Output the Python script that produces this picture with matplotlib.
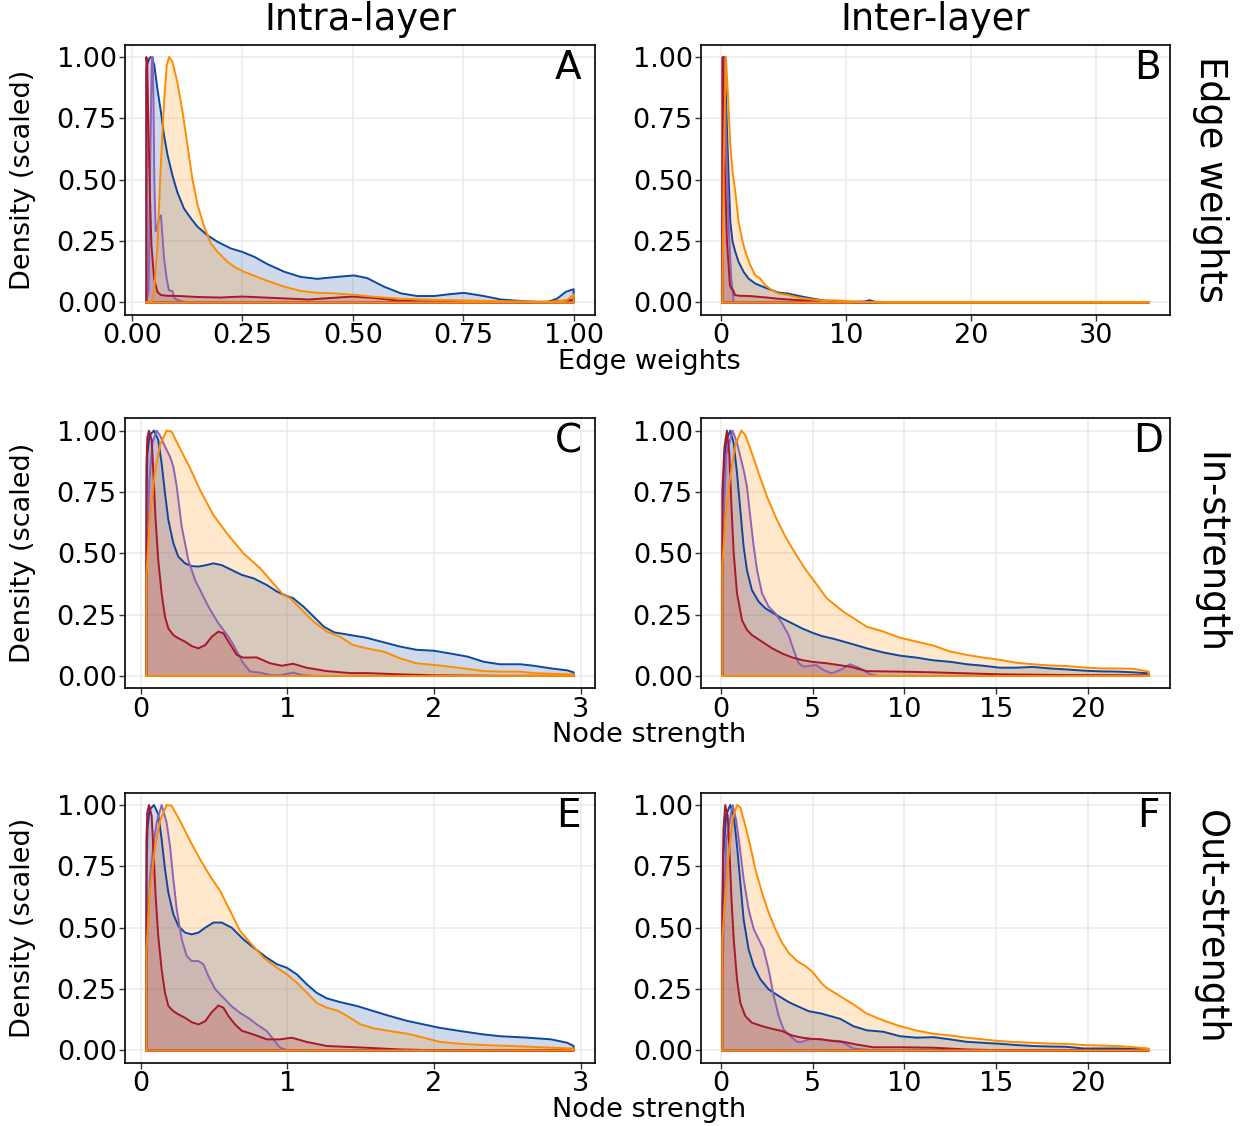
import numpy as np
import matplotlib
matplotlib.use("Agg")
from matplotlib import pyplot as plt

# scaled densities, read per panel and per group
# panel A: intra-layer edge weights
a_blue_x = [0.033, 0.035, 0.040, 0.043, 0.047, 0.051, 0.058, 0.066, 0.073, 0.081, 0.092, 0.103, 0.118, 0.134,
            0.149, 0.171, 0.194, 0.224, 0.250, 0.277, 0.307, 0.345, 0.382, 0.420, 0.458, 0.503, 0.533, 0.571,
            0.609, 0.646, 0.684, 0.722, 0.752, 0.797, 0.835, 0.895, 0.940, 0.963, 0.982, 1.000]
a_blue_y = [0.95, 0.97, 0.995, 1.00, 0.99, 0.966, 0.87, 0.776, 0.681, 0.60, 0.518, 0.45, 0.383, 0.342,
            0.308, 0.274, 0.247, 0.22, 0.206, 0.186, 0.156, 0.125, 0.104, 0.096, 0.103, 0.110, 0.099, 0.064,
            0.037, 0.026, 0.026, 0.034, 0.039, 0.026, 0.012, 0.004, 0.001, 0.016, 0.043, 0.054]
a_purple_x = [0.033, 0.038, 0.042, 0.045, 0.047, 0.049, 0.051, 0.054, 0.058, 0.062, 0.066, 0.069, 0.073,
              0.079, 0.084, 0.092, 0.097, 0.111, 0.13, 0.3, 0.6, 0.9, 1.0]
a_purple_y = [0.0, 0.05, 0.6, 0.97, 1.0, 0.85, 0.5, 0.29, 0.31, 0.345, 0.355, 0.28, 0.18,
              0.097, 0.05, 0.046, 0.016, 0.005, 0.0, 0.0, 0.0, 0.0, 0.005]
a_red_x = [0.033, 0.035, 0.037, 0.041, 0.0445, 0.0505, 0.058, 0.066, 0.081, 0.11, 0.15, 0.2, 0.25, 0.3,
           0.35, 0.4, 0.45, 0.5, 0.55, 0.6, 0.65, 0.7, 0.8, 0.9, 0.97, 1.0]
a_red_y = [1.0, 0.97, 0.776, 0.437, 0.233, 0.098, 0.043, 0.03, 0.027, 0.026, 0.022, 0.02, 0.024, 0.02,
           0.016, 0.012, 0.018, 0.024, 0.018, 0.008, 0.004, 0.003, 0.002, 0.001, 0.004, 0.012]
a_orange_x = [0.033, 0.045, 0.0505, 0.058, 0.066, 0.073, 0.079, 0.0845, 0.092, 0.103, 0.115, 0.126, 0.137,
              0.149, 0.164, 0.179, 0.194, 0.217, 0.232, 0.254, 0.292, 0.307, 0.345, 0.382, 0.42, 0.458,
              0.503, 0.548, 0.609, 0.684, 0.759, 0.835, 0.948, 0.986, 1.0]
a_orange_y = [0.0, 0.003, 0.043, 0.233, 0.573, 0.817, 0.966, 1.0, 0.98, 0.898, 0.776, 0.64, 0.505,
              0.396, 0.308, 0.24, 0.206, 0.165, 0.145, 0.125, 0.098, 0.088, 0.064, 0.047, 0.039, 0.037,
              0.031, 0.023, 0.015, 0.011, 0.008, 0.005, 0.003, 0.01, 0.033]

# panel B: inter-layer edge weights
b_blue_x = [0.13, 0.2, 0.32, 0.5, 0.64, 0.77, 0.95, 1.17, 1.43, 1.83, 2.23, 2.76, 3.56, 4.63, 5.4, 6.2,
            7.3, 8.1, 9.0, 10.5, 11.5, 11.9, 12.3, 14, 20, 28, 34.2]
b_blue_y = [0.3, 0.9, 1.0, 0.708, 0.505, 0.328, 0.247, 0.206, 0.165, 0.125, 0.097, 0.077, 0.06, 0.04,
            0.036, 0.027, 0.016, 0.009, 0.004, 0.002, 0.004, 0.009, 0.003, 0.0, 0.0, 0.0, 0.0]
b_purple_x = [0.13, 0.26, 0.37, 0.64, 0.85, 1.04, 2, 10, 20, 34.2]
b_purple_y = [0.4, 1.0, 0.776, 0.3, 0.097, 0.0, 0.0, 0.0, 0.0, 0.0]
b_red_x = [0.13, 0.16, 0.3, 0.5, 0.74, 0.85, 1.0, 1.14, 1.5, 2.34, 3.67, 4.6, 6.3, 7.5, 9.0, 12, 20, 34.2]
b_red_y = [0.95, 1.0, 0.6, 0.25, 0.07, 0.057, 0.05, 0.03, 0.027, 0.026, 0.02, 0.015, 0.009, 0.006, 0.003,
           0.0, 0.0, 0.0]
b_orange_x = [0.13, 0.25, 0.42, 0.58, 0.77, 0.95, 1.17, 1.43, 1.7, 1.97, 2.36, 2.76, 3.16, 3.56, 4.1,
              4.63, 5.4, 6.2, 7.3, 8.1, 9.0, 10.3, 11.6, 13, 20, 34.2]
b_orange_y = [0.0, 0.6, 1.0, 0.845, 0.64, 0.532, 0.45, 0.328, 0.26, 0.206, 0.152, 0.111, 0.097, 0.07,
              0.05, 0.036, 0.03, 0.02, 0.012, 0.008, 0.009, 0.005, 0.002, 0.0, 0.0, 0.0]

# panel C: intra-layer in-strength
c_blue_x = [0.039, 0.041, 0.046, 0.06, 0.091, 0.12, 0.143, 0.166, 0.189, 0.223, 0.257, 0.303, 0.348,
            0.394, 0.44, 0.496, 0.553, 0.621, 0.69, 0.77, 0.86, 0.93, 0.997, 1.04, 1.11, 1.18, 1.25, 1.32,
            1.43, 1.54, 1.66, 1.77, 1.88, 2.0, 2.11, 2.23, 2.34, 2.45, 2.59, 2.68, 2.8, 2.91, 2.953]
c_blue_y = [0.4, 0.75, 0.9, 0.98, 1.0, 0.962, 0.867, 0.745, 0.636, 0.541, 0.486, 0.459, 0.448,
            0.446, 0.451, 0.459, 0.452, 0.432, 0.412, 0.398, 0.371, 0.344, 0.326, 0.317, 0.283, 0.242,
            0.201, 0.178, 0.167, 0.156, 0.137, 0.12, 0.107, 0.103, 0.092, 0.079, 0.058, 0.048, 0.048,
            0.042, 0.031, 0.023, 0.015]
c_purple_x = [0.039, 0.06, 0.08, 0.109, 0.132, 0.166, 0.2, 0.223, 0.246, 0.28, 0.325, 0.371, 0.417,
              0.462, 0.53, 0.599, 0.633, 0.7, 0.747, 0.815, 0.883, 0.95, 1.04, 1.11, 1.2, 2.0, 2.953]
c_purple_y = [0.45, 0.8, 0.95, 1.0, 0.98, 0.935, 0.894, 0.853, 0.772, 0.609, 0.473, 0.391, 0.337,
              0.283, 0.215, 0.16, 0.126, 0.052, 0.018, 0.014, 0.004, 0.003, 0.014, 0.003, 0.0, 0.0, 0.0]
c_red_x = [0.039, 0.045, 0.057, 0.075, 0.086, 0.102, 0.12, 0.143, 0.166, 0.189, 0.223, 0.257, 0.303,
           0.348, 0.394, 0.44, 0.485, 0.53, 0.565, 0.599, 0.656, 0.70, 0.79, 0.883, 0.963, 1.04, 1.13,
           1.27, 1.43, 1.54, 1.77, 2.0, 2.45, 2.953]
c_red_y = [0.85, 0.97, 1.0, 0.962, 0.84, 0.636, 0.473, 0.337, 0.242, 0.194, 0.167, 0.154, 0.14,
           0.122, 0.113, 0.126, 0.16, 0.181, 0.174, 0.14, 0.086, 0.075, 0.076, 0.052, 0.042, 0.05, 0.034,
           0.02, 0.012, 0.012, 0.007, 0.003, 0.001, 0.001]
c_orange_x = [0.039, 0.064, 0.098, 0.132, 0.177, 0.211, 0.268, 0.337, 0.405, 0.496, 0.587, 0.701, 0.815,
              0.894, 0.974, 1.02, 1.088, 1.18, 1.27, 1.36, 1.45, 1.54, 1.66, 1.77, 1.88, 2.0, 2.11, 2.23,
              2.34, 2.45, 2.59, 2.68, 2.91, 2.953]
c_orange_y = [0.41, 0.656, 0.833, 0.942, 1.0, 0.996, 0.928, 0.847, 0.758, 0.656, 0.582, 0.5, 0.439,
              0.385, 0.33, 0.317, 0.276, 0.221, 0.181, 0.16, 0.126, 0.113, 0.099, 0.072, 0.052, 0.045,
              0.038, 0.029, 0.02, 0.018, 0.018, 0.012, 0.007, 0.007]

# panel D: inter-layer in-strength
d_blue_x = [0.09, 0.15, 0.3, 0.52, 0.71, 0.89, 1.07, 1.25, 1.43, 1.7, 2.07, 2.43, 2.89, 3.34, 3.88, 4.43,
            4.97, 5.5, 6.13, 7.04, 7.95, 8.86, 9.76, 10.67, 11.58, 12.49, 13.4, 14.3, 15.2, 16.1, 17.0,
            17.9, 18.8, 19.75, 20.7, 21.6, 22.5, 23.3]
d_blue_y = [0.45, 0.8, 0.96, 1.0, 0.949, 0.826, 0.677, 0.527, 0.432, 0.35, 0.303, 0.276, 0.255, 0.235,
            0.215, 0.194, 0.177, 0.163, 0.152, 0.133, 0.113, 0.096, 0.083, 0.075, 0.064, 0.058, 0.048,
            0.042, 0.034, 0.034, 0.037, 0.031, 0.027, 0.022, 0.019, 0.018, 0.015, 0.011]
d_purple_x = [0.09, 0.3, 0.65, 0.89, 1.07, 1.25, 1.43, 1.61, 1.8, 1.98, 2.25, 2.61, 2.98, 3.34, 3.7,
              3.97, 4.25, 4.52, 4.79, 5.2, 5.6, 6.04, 6.5, 7.04, 7.6, 8.13, 8.6, 12, 23.3]
d_purple_y = [0.5, 0.9, 1.0, 0.95, 0.894, 0.84, 0.772, 0.65, 0.527, 0.432, 0.337, 0.283, 0.255, 0.215,
              0.167, 0.106, 0.052, 0.038, 0.041, 0.045, 0.024, 0.011, 0.024, 0.048, 0.031, 0.007, 0.0,
              0.0, 0.0]
d_red_x = [0.09, 0.2, 0.34, 0.47, 0.58, 0.71, 0.89, 1.16, 1.43, 1.7, 2.25, 2.8, 3.34, 3.88, 4.43, 4.97,
           5.77, 7.04, 7.95, 9.76, 11.6, 13.4, 15.2, 18.8, 23.3]
d_red_y = [0.75, 0.93, 1.0, 0.908, 0.704, 0.5, 0.337, 0.228, 0.188, 0.167, 0.14, 0.113, 0.092, 0.076,
           0.065, 0.058, 0.052, 0.038, 0.02, 0.018, 0.015, 0.011, 0.007, 0.004, 0.003]
d_orange_x = [0.09, 0.25, 0.52, 0.8, 1.12, 1.34, 1.7, 2.07, 2.52, 2.98, 3.52, 4.06, 4.61, 5.16, 5.77,
              6.68, 7.95, 8.86, 9.76, 10.67, 11.58, 12.49, 13.4, 14.3, 15.2, 16.1, 17.0, 17.9, 18.8,
              19.75, 20.7, 21.6, 22.5, 23.3]
d_orange_y = [0.45, 0.636, 0.813, 0.942, 1.0, 0.982, 0.908, 0.826, 0.731, 0.65, 0.568, 0.5, 0.435,
              0.38, 0.317, 0.262, 0.201, 0.181, 0.156, 0.14, 0.124, 0.1, 0.086, 0.075, 0.066, 0.054,
              0.048, 0.043, 0.041, 0.035, 0.031, 0.031, 0.029, 0.018]

# panel E: intra-layer out-strength
e_blue_x = [0.039, 0.041, 0.046, 0.06, 0.091, 0.12, 0.143, 0.166, 0.189, 0.223, 0.257, 0.303, 0.348,
            0.394, 0.44, 0.496, 0.553, 0.621, 0.70, 0.77, 0.86, 0.93, 0.997, 1.065, 1.134, 1.2, 1.27,
            1.36, 1.475, 1.59, 1.7, 1.82, 1.93, 2.04, 2.18, 2.34, 2.45, 2.64, 2.8, 2.91, 2.953]
e_blue_y = [0.45, 0.75, 0.9, 0.98, 1.0, 0.963, 0.861, 0.739, 0.643, 0.555, 0.507, 0.48, 0.473,
            0.48, 0.5, 0.521, 0.521, 0.5, 0.453, 0.419, 0.378, 0.351, 0.337, 0.31, 0.269, 0.235, 0.212,
            0.197, 0.181, 0.16, 0.14, 0.12, 0.106, 0.092, 0.079, 0.065, 0.058, 0.052, 0.045, 0.031, 0.018]
e_purple_x = [0.039, 0.064, 0.086, 0.109, 0.143, 0.177, 0.2, 0.223, 0.246, 0.28, 0.314, 0.348, 0.394,
              0.428, 0.462, 0.508, 0.564, 0.62, 0.678, 0.74, 0.792, 0.86, 0.906, 0.951, 0.997, 1.05,
              2.0, 2.953]
e_purple_y = [0.35, 0.698, 0.834, 0.929, 1.0, 0.929, 0.834, 0.698, 0.575, 0.453, 0.385, 0.364, 0.364,
              0.351, 0.303, 0.25, 0.215, 0.18, 0.153, 0.13, 0.106, 0.079, 0.045, 0.011, 0.002, 0.0,
              0.0, 0.0]
e_red_x = [0.039, 0.045, 0.057, 0.075, 0.086, 0.102, 0.12, 0.143, 0.166, 0.189, 0.223, 0.257, 0.303,
           0.348, 0.394, 0.44, 0.485, 0.53, 0.565, 0.599, 0.644, 0.69, 0.77, 0.86, 0.95, 1.03, 1.13,
           1.27, 1.54, 1.77, 2.0, 2.953]
e_red_y = [0.85, 0.97, 1.0, 0.956, 0.834, 0.63, 0.466, 0.33, 0.235, 0.181, 0.16, 0.147, 0.133,
           0.115, 0.106, 0.119, 0.156, 0.183, 0.174, 0.14, 0.106, 0.08, 0.065, 0.045, 0.045, 0.052,
           0.035, 0.018, 0.011, 0.004, 0.001, 0.0]
e_orange_x = [0.039, 0.0635, 0.098, 0.132, 0.177, 0.211, 0.268, 0.337, 0.405, 0.473, 0.542, 0.61, 0.678,
              0.747, 0.838, 0.929, 0.997, 1.065, 1.134, 1.2, 1.27, 1.34, 1.41, 1.5, 1.59, 1.7, 1.82,
              1.93, 2.04, 2.18, 2.34, 2.57, 2.8, 2.953]
e_orange_y = [0.4, 0.65, 0.827, 0.936, 1.0, 0.997, 0.936, 0.854, 0.779, 0.711, 0.65, 0.569, 0.487,
              0.439, 0.378, 0.337, 0.31, 0.276, 0.235, 0.194, 0.174, 0.163, 0.14, 0.106, 0.09, 0.079,
              0.068, 0.052, 0.035, 0.027, 0.022, 0.017, 0.011, 0.008]

# panel F: inter-layer out-strength
f_blue_x = [0.09, 0.15, 0.3, 0.52, 0.71, 0.89, 1.07, 1.25, 1.52, 1.8, 2.16, 2.61, 3.16, 3.7, 4.25, 4.79,
            5.5, 5.77, 6.5, 7.22, 7.95, 8.86, 9.76, 10.67, 11.58, 12.49, 13.4, 14.3, 15.2, 16.1, 17.0,
            17.9, 18.8, 19.75, 21.6, 23.3]
f_blue_y = [0.45, 0.8, 0.96, 1.0, 0.956, 0.834, 0.684, 0.534, 0.412, 0.344, 0.29, 0.249, 0.222, 0.197,
            0.178, 0.16, 0.15, 0.144, 0.129, 0.099, 0.082, 0.076, 0.058, 0.052, 0.054, 0.045, 0.035,
            0.031, 0.027, 0.022, 0.018, 0.016, 0.015, 0.008, 0.008, 0.004]
f_purple_x = [0.09, 0.3, 0.65, 0.83, 1.01, 1.25, 1.52, 1.8, 2.07, 2.34, 2.61, 2.89, 3.16, 3.43, 3.79,
              4.16, 4.43, 4.79, 5.16, 5.5, 5.77, 6.5, 6.86, 7.22, 7.95, 8.5, 12, 23.3]
f_purple_y = [0.3, 0.85, 1.0, 0.943, 0.848, 0.698, 0.575, 0.494, 0.453, 0.412, 0.33, 0.222, 0.14,
              0.085, 0.058, 0.035, 0.035, 0.045, 0.047, 0.045, 0.041, 0.038, 0.024, 0.008, 0.003, 0.0,
              0.0, 0.0]
f_red_x = [0.09, 0.15, 0.25, 0.38, 0.47, 0.58, 0.71, 0.89, 1.07, 1.34, 1.7, 2.25, 2.8, 3.34, 3.88, 4.43,
           4.97, 5.5, 6.13, 6.68, 7.4, 8.3, 9.76, 11.6, 13.4, 15.2, 23.3]
f_red_y = [0.6, 0.9, 1.0, 0.956, 0.834, 0.63, 0.453, 0.29, 0.194, 0.14, 0.113, 0.099, 0.088, 0.079,
           0.061, 0.052, 0.047, 0.045, 0.038, 0.035, 0.024, 0.013, 0.013, 0.011, 0.004, 0.001, 0.0]
f_orange_x = [0.09, 0.25, 0.43, 0.65, 0.89, 1.07, 1.34, 1.61, 1.89, 2.25, 2.61, 2.98, 3.34, 3.7, 4.16,
              4.61, 4.97, 5.52, 5.77, 6.5, 7.22, 7.95, 8.86, 9.76, 10.67, 11.58, 12.49, 13.4, 14.3, 15.2,
              16.1, 17.0, 17.9, 18.8, 19.75, 21.6, 22.5, 23.3]
f_orange_y = [0.45, 0.63, 0.793, 0.943, 1.0, 0.99, 0.916, 0.834, 0.738, 0.643, 0.562, 0.494, 0.439,
              0.398, 0.364, 0.344, 0.322, 0.272, 0.255, 0.221, 0.188, 0.15, 0.122, 0.099, 0.081, 0.068,
              0.061, 0.052, 0.045, 0.038, 0.034, 0.031, 0.028, 0.027, 0.022, 0.018, 0.013, 0.008]

col_titles = ["Intra-layer", "Inter-layer"]
row_titles = ["Edge weights", "In-strength", "Out-strength"]
x_titles = ["Edge weights", "Node strength", "Node strength"]
panel_letters = ["A", "B", "C", "D", "E", "F"]
y_ticks = [0.0, 0.25, 0.5, 0.75, 1.0]

colors = ["#0D47A1", "#8E63B4", "#A8182A", "#FF8C00"]

panels = [
    [(a_blue_x, a_blue_y), (a_purple_x, a_purple_y), (a_red_x, a_red_y), (a_orange_x, a_orange_y)],
    [(b_blue_x, b_blue_y), (b_purple_x, b_purple_y), (b_red_x, b_red_y), (b_orange_x, b_orange_y)],
    [(c_blue_x, c_blue_y), (c_purple_x, c_purple_y), (c_red_x, c_red_y), (c_orange_x, c_orange_y)],
    [(d_blue_x, d_blue_y), (d_purple_x, d_purple_y), (d_red_x, d_red_y), (d_orange_x, d_orange_y)],
    [(e_blue_x, e_blue_y), (e_purple_x, e_purple_y), (e_red_x, e_red_y), (e_orange_x, e_orange_y)],
    [(f_blue_x, f_blue_y), (f_purple_x, f_purple_y), (f_red_x, f_red_y), (f_orange_x, f_orange_y)],
]
x_ticks = [[0, 0.25, 0.5, 0.75, 1.0], [0, 10, 20, 30], [0, 1, 2, 3], [0, 5, 10, 15, 20],
           [0, 1, 2, 3], [0, 5, 10, 15, 20]]
x_fmt = ["{:.2f}", "{:g}", "{:g}", "{:g}", "{:g}", "{:g}"]


def expand(lo, hi, frac=0.05):
    r = hi - lo
    return lo - frac * r, hi + frac * r


W, H = 1242, 1126
fig = plt.figure(figsize=(W / 100, H / 100), dpi=100)
plt.rcParams['font.family'] = ['DejaVu Sans']

col_left = [125, 701]
col_w = [470, 469]
row_top = [44.7, 418.3, 792.7]
row_h = 270

for i, series in enumerate(panels):
    r, c = divmod(i, 2)
    ax = fig.add_axes([col_left[c] / W, 1 - (row_top[r] + row_h) / H, col_w[c] / W, row_h / H])
    ax.set_axisbelow(True)
    ax.grid(True, color="#ebebeb", lw=1.1)
    xmin = min(s[0][0] for s in series)
    xmax = max(s[0][-1] for s in series)
    for (xs, ys), col in zip(series, colors):
        px = np.r_[xs[0], xs, xs[-1], xs[0]]
        py = np.r_[0.0, ys, 0.0, 0.0]
        ax.fill(px, py, facecolor=col, alpha=0.2, edgecolor="none")
        ax.plot(px, py, color=col, lw=1.4, solid_joinstyle="round")
    ax.set_xlim(*expand(xmin, xmax))
    ax.set_ylim(-0.05, 1.05)
    ax.set_xticks(x_ticks[i])
    ax.set_xticklabels([x_fmt[i].format(t) for t in x_ticks[i]])
    ax.set_yticks(y_ticks)
    ax.set_yticklabels(["{:.2f}".format(t) for t in y_ticks])
    ax.tick_params(labelsize=19.5, length=4, width=1, color="#333333", pad=2, labelcolor="black")
    for sp in ax.spines.values():
        sp.set_color("black")
        sp.set_linewidth(1.2)
    lx = 0.943 if c == 0 else 0.953
    ax.text(lx, 0.915, panel_letters[i], transform=ax.transAxes, fontsize=28,
            ha="center", va="center")
    if c == 0:
        fig.text(23 / W, 1 - (row_top[r] + row_h / 2) / H, "Density (scaled)", rotation=90,
                 fontsize=19.5, ha="center", va="center")

# strip labels
for c, t in enumerate(col_titles):
    fig.text((col_left[c] + col_w[c] / 2) / W, 1 - 20 / H, t, fontsize=26.5, ha="center", va="center")
for r, t in enumerate(row_titles):
    fig.text(1210 / W, 1 - (row_top[r] + row_h / 2) / H, t, fontsize=26.5, rotation=270,
             ha="center", va="center")
for r, t in enumerate(x_titles):
    fig.text(649 / W, 1 - (row_top[r] + row_h + 47) / H, t, fontsize=19.5, ha="center", va="center")

fig.savefig("out.png", dpi=100)
